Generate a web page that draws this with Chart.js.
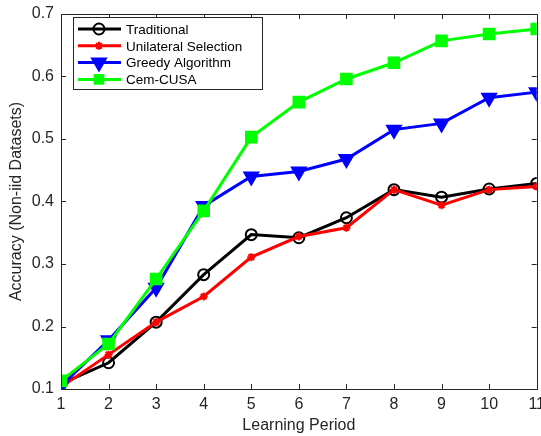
<!DOCTYPE html>
<html>
<head>
<meta charset="utf-8">
<script src="https://cdn.jsdelivr.net/npm/chart.js@4/dist/chart.umd.min.js"></script>
<style>
  html, body { margin: 0; padding: 0; background: #fff; overflow: hidden; }
  /* a bit wider than the window so the last x label gets cut at the edge like the original */
  #wrap { width: 551px; height: 436px; position: relative; }
</style>
</head>
<body>
<div id="wrap"><canvas id="accChart"></canvas></div>
<script>
// learning periods on the x axis
const periods = [1, 2, 3, 4, 5, 6, 7, 8, 9, 10, 11];

// accuracy values
const traditional = [0.108, 0.142, 0.207, 0.283, 0.347, 0.342, 0.374, 0.419, 0.407, 0.420, 0.429];
const unilateral  = [0.103, 0.155, 0.207, 0.248, 0.311, 0.344, 0.358, 0.419, 0.394, 0.419, 0.424];
const greedy      = [0.105, 0.178, 0.262, 0.393, 0.440, 0.448, 0.468, 0.515, 0.525, 0.566, 0.575];
const cemCusa     = [0.113, 0.172, 0.276, 0.385, 0.503, 0.559, 0.596, 0.622, 0.657, 0.668, 0.676];

const seriesNames = ['Traditional', 'Unilateral Selection', 'Greedy Algorithm', 'Cem-CUSA'];
const yTicks = [0.1, 0.2, 0.3, 0.4, 0.5, 0.6, 0.7];

const textColor = '#262626';
const fontFamily = '"Liberation Sans", Arial, Helvetica, sans-serif';

function toPoints(values) {
    return values.map((v, i) => ({ x: periods[i], y: v }));
}

// matlab style box with inward ticks on all four sides
const boxPlugin = {
    id: 'matlabBox',
    afterDatasetsDraw(chart) {
        const { ctx, chartArea: a, scales } = chart;
        ctx.save();
        ctx.strokeStyle = textColor;
        ctx.lineWidth = 1;
        ctx.strokeRect(Math.round(a.left) + 0.5, Math.round(a.top) + 0.5,
                       Math.round(a.right - a.left), Math.round(a.bottom - a.top));
        const tl = 5;
        ctx.beginPath();
        periods.forEach(p => {
            const x = Math.round(scales.x.getPixelForValue(p)) + 0.5;
            ctx.moveTo(x, a.bottom); ctx.lineTo(x, a.bottom - tl);
            ctx.moveTo(x, a.top); ctx.lineTo(x, a.top + tl);
        });
        yTicks.forEach(t => {
            const y = Math.round(scales.y.getPixelForValue(t)) + 0.5;
            ctx.moveTo(a.left, y); ctx.lineTo(a.left + tl, y);
            ctx.moveTo(a.right, y); ctx.lineTo(a.right - tl, y);
        });
        ctx.stroke();
        ctx.restore();
    }
};

// legend with line + marker samples, drawn inside the top-left corner
function drawMarker(ctx, ds, x, y) {
    ctx.save();
    ctx.fillStyle = ds.pointBackgroundColor;
    ctx.strokeStyle = ds.pointBorderColor;
    ctx.lineWidth = ds.pointBorderWidth;
    const r = ds.pointRadius;
    ctx.beginPath();
    if (ds.pointStyle === 'circle') {
        ctx.arc(x, y, r, 0, Math.PI * 2);
        ctx.stroke();
    } else if (ds.pointStyle === 'rect') {
        const s = r * Math.SQRT1_2;
        ctx.rect(x - s, y - s, s * 2, s * 2);
        ctx.fill();
    } else if (ds.pointStyle === 'triangle') {
        ctx.moveTo(x - r * 0.87, y - r * 0.5);
        ctx.lineTo(x + r * 0.87, y - r * 0.5);
        ctx.lineTo(x, y + r);
        ctx.closePath();
        ctx.fill();
        ctx.stroke();
    } else {
        for (let k = 0; k < 4; k++) {
            const ang = k * Math.PI / 4;
            ctx.moveTo(x - Math.cos(ang) * r, y - Math.sin(ang) * r);
            ctx.lineTo(x + Math.cos(ang) * r, y + Math.sin(ang) * r);
        }
        ctx.stroke();
    }
    ctx.restore();
}

const legendPlugin = {
    id: 'boxLegend',
    afterDraw(chart) {
        const { ctx } = chart;
        const bx = 73, by = 17, bw = 189, bh = 72;
        ctx.save();
        ctx.fillStyle = '#fff';
        ctx.fillRect(bx, by, bw, bh);
        ctx.strokeStyle = '#262626';
        ctx.lineWidth = 1;
        ctx.strokeRect(bx + 0.5, by + 0.5, bw, bh);
        ctx.font = '13.5px ' + fontFamily;
        ctx.textBaseline = 'middle';
        chart.data.datasets.forEach((ds, i) => {
            const y = 29 + i * 16.8;
            ctx.strokeStyle = ds.borderColor;
            ctx.lineWidth = ds.borderWidth;
            ctx.beginPath();
            ctx.moveTo(78, y);
            ctx.lineTo(121, y);
            ctx.stroke();
            drawMarker(ctx, ds, 99, y);
            ctx.fillStyle = '#000';
            ctx.fillText(ds.label, 126, y + 1);
        });
        ctx.restore();
    }
};

function makeSeries(label, values, color, style, radius, fill, order, extra) {
    return Object.assign({
        label: label,
        data: toPoints(values),
        borderColor: color,
        backgroundColor: color,
        borderWidth: 3,
        pointStyle: style,
        pointRadius: radius,
        pointHoverRadius: radius,
        pointBackgroundColor: fill,
        pointBorderColor: color,
        pointBorderWidth: 2,
        tension: 0,
        order: order
    }, extra || {});
}

const datasets = [
    makeSeries(seriesNames[0], traditional, '#000000', 'circle', 5.5, 'rgba(0,0,0,0)', 4),
    makeSeries(seriesNames[1], unilateral, '#ff0000', 'star', 4, '#ff0000', 3),
    makeSeries(seriesNames[2], greedy, '#0000ff', 'triangle', 8, '#0000ff', 2, { pointRotation: 180 }),
    makeSeries(seriesNames[3], cemCusa, '#00ff00', 'rect', 7.5, '#00ff00', 1)
];

const ctx = document.getElementById('accChart').getContext('2d');
new Chart(ctx, {
    type: 'line',
    data: { datasets: datasets },
    options: {
        responsive: true,
        maintainAspectRatio: false,
        animation: false,
        layout: { padding: { top: 14, right: 0, left: 0, bottom: 0 } },
        plugins: {
            legend: { display: false },
            tooltip: { enabled: false }
        },
        scales: {
            x: {
                type: 'linear',
                min: 1,
                max: 11,
                grid: { display: false, drawTicks: false },
                border: { display: false },
                afterBuildTicks(scale) { scale.ticks = periods.map(v => ({ value: v })); },
                afterFit(scale) { scale.height = 47; },
                ticks: {
                    color: textColor,
                    padding: 6,
                    maxRotation: 0,
                    autoSkip: false,
                    font: { size: 16, family: fontFamily }
                },
                title: {
                    display: true,
                    text: 'Learning Period',
                    color: textColor,
                    padding: { top: 0, bottom: 1 },
                    font: { size: 16, family: fontFamily }
                }
            },
            y: {
                min: 0.1,
                max: 0.7,
                grid: { display: false, drawTicks: false },
                border: { display: false },
                afterBuildTicks(scale) { scale.ticks = yTicks.map(v => ({ value: v })); },
                afterFit(scale) { scale.width = 61; scale.paddingTop = 0; },
                ticks: {
                    color: textColor,
                    padding: 7,
                    font: { size: 16, family: fontFamily, lineHeight: 1 },
                    callback: v => v.toFixed(1)
                },
                title: {
                    display: true,
                    text: 'Accuracy (Non-iid Datasets)',
                    color: textColor,
                    padding: { top: 7, bottom: 0 },
                    font: { size: 16, family: fontFamily }
                }
            }
        }
    },
    plugins: [boxPlugin, legendPlugin]
});
</script>
</body>
</html>
